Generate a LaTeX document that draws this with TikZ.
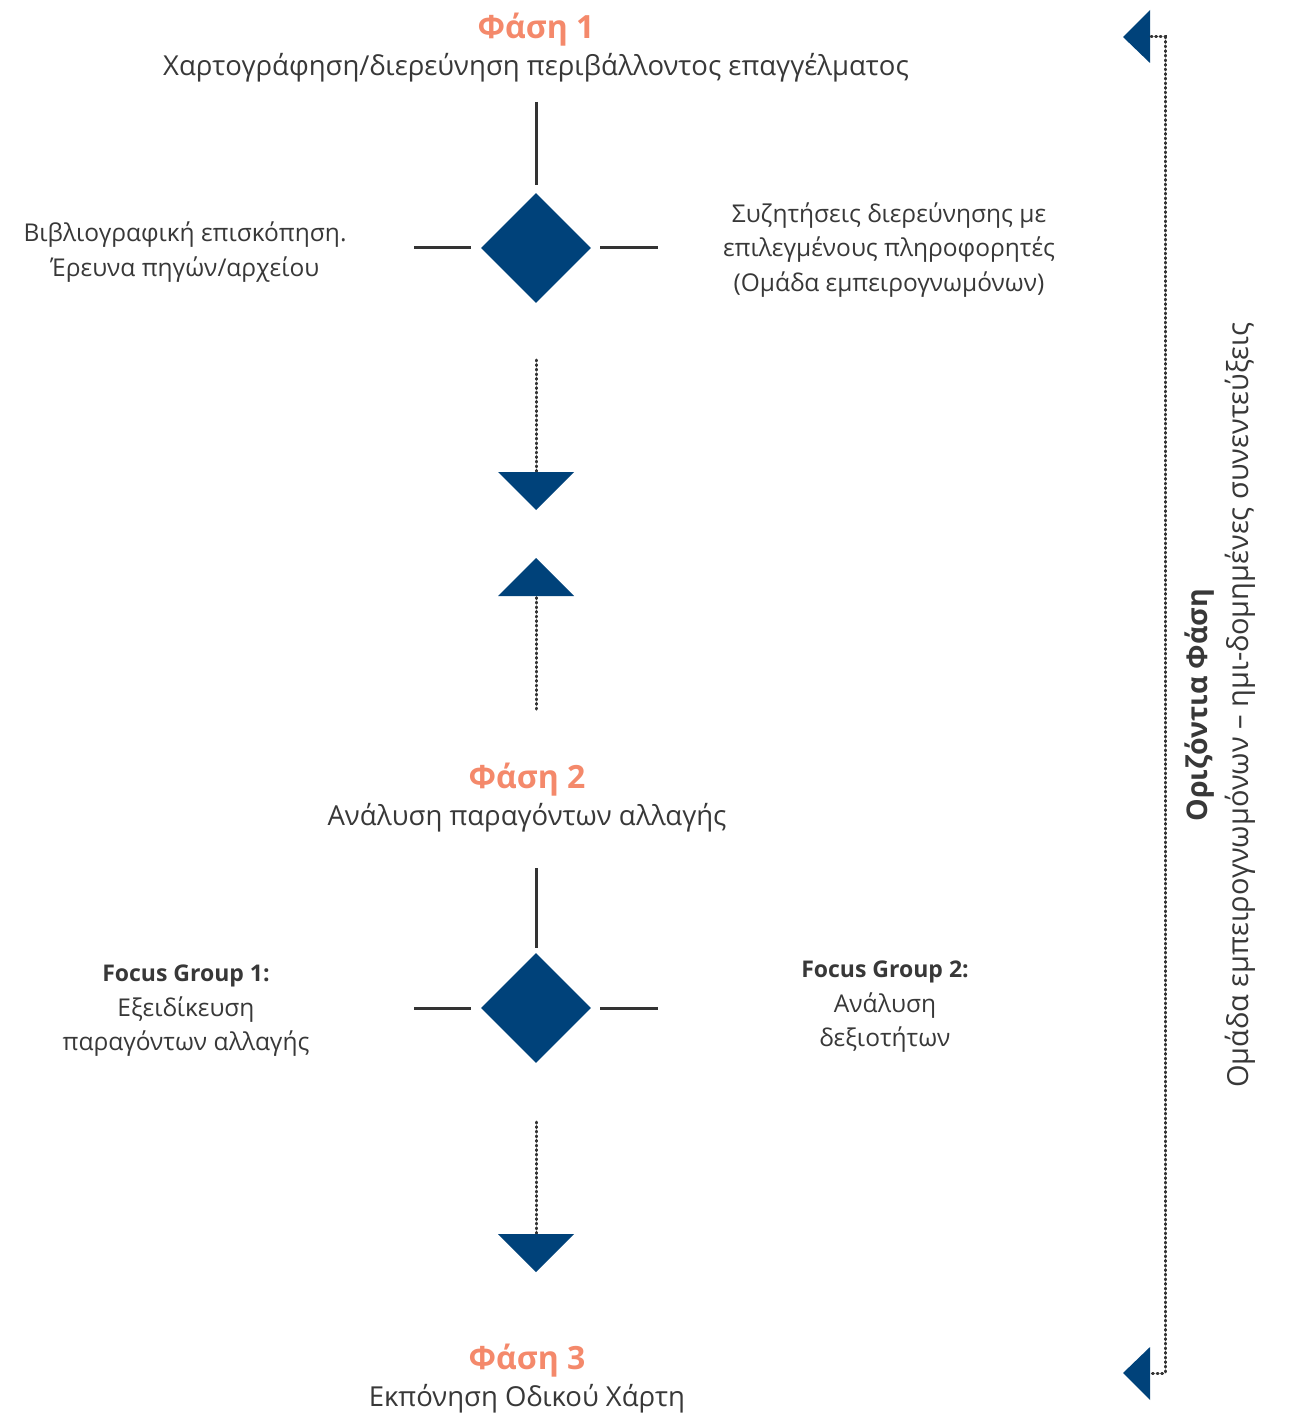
\documentclass[tikz,border=0pt]{standalone}
\usepackage{fontspec}
\setmainfont{Open Sans}
\usetikzlibrary{shapes.geometric}
\definecolor{navy}{HTML}{00427A}
\definecolor{salmon}{HTML}{F4896B}
\definecolor{txt}{HTML}{383838}
\definecolor{ln}{HTML}{333333}
\tikzset{
  phase/.style={text=salmon,font=\fontsize{32}{36}\selectfont\bfseries,inner sep=0},
  sub/.style={text=txt,font=\fontsize{27.5}{32}\selectfont,inner sep=0},
  side/.style={text=txt,font=\fontsize{24.5}{34.5}\selectfont,align=center,inner sep=0},
  dia/.style={diamond,fill=navy,minimum width=110,minimum height=110,inner sep=0,draw=none},
  solidln/.style={draw=ln,line width=3pt},
  dotln/.style={draw=ln,line width=3pt,dash pattern=on 1pt off 3.6pt,line cap=round},
  tri/.style={fill=navy,draw=none},
}
\begin{document}
\begin{tikzpicture}[x=1pt,y=-1pt]
\useasboundingbox (0,0) rectangle (1290,1415);

% Phase 1
\node[phase] (p1) at (536,30) {Φάση 1};
\node[sub] (p1s) at (536,68) {Χαρτογράφηση/διερεύνηση περιβάλλοντος επαγγέλματος};
\node[dia] (d1) at (536,248) {};
\coordinate (t1) at (536,102);
\coordinate (t1e) at (536,185);
\draw[solidln] (t1) -- (t1e);
\coordinate (l1a) at (414,248); \coordinate (l1b) at (471,248);
\coordinate (r1a) at (600,248); \coordinate (r1b) at (658,248);
\draw[solidln] (l1a) -- (l1b);
\draw[solidln] (r1a) -- (r1b);
\node[side] (left1) at (185,252) {Βιβλιογραφική επισκόπηση.\\Έρευνα πηγών/αρχείου};
\node[side] (right1) at (889,250) {Συζητήσεις διερεύνησης με\\επιλεγμένους πληροφορητές\\(Ομάδα εμπειρογνωμόνων)};

% arrows between phase 1 and 2
\coordinate (a1s) at (536,360);
\coordinate (a1e) at (536,472);
\draw[dotln] (a1s) -- (a1e);
\fill[tri] (498,472) -- (574,472) -- (536,510) -- cycle;
\coordinate (a2s) at (536,709);
\coordinate (a2e) at (536,596);
\draw[dotln] (a2s) -- (a2e);
\fill[tri] (498,596) -- (574,596) -- (536,558) -- cycle;

% Phase 2
\node[phase] (p2) at (527,780) {Φάση 2};
\node[sub] (p2s) at (527,818) {Ανάλυση παραγόντων αλλαγής};
\node[dia] (d2) at (536,1008) {};
\coordinate (t2) at (536,868);
\coordinate (t2e) at (536,948);
\draw[solidln] (t2) -- (t2e);
\coordinate (l2a) at (414,1008); \coordinate (l2b) at (471,1008);
\coordinate (r2a) at (600,1008); \coordinate (r2b) at (658,1008);
\draw[solidln] (l2a) -- (l2b);
\draw[solidln] (r2a) -- (r2b);
\node[side] (left2) at (186,1011) {{\fontsize{23}{34.5}\selectfont\bfseries Focus Group 1:}\\Εξειδίκευση\\παραγόντων αλλαγής};
\node[side] (right2) at (885,1007) {{\fontsize{23}{34.5}\selectfont\bfseries Focus Group 2:}\\Ανάλυση\\δεξιοτήτων};

\coordinate (a3s) at (536,1122);
\coordinate (a3e) at (536,1234);
\draw[dotln] (a3s) -- (a3e);
\fill[tri] (498,1234) -- (574,1234) -- (536,1272) -- cycle;

% Phase 3
\node[phase] (p3) at (527,1361) {Φάση 3};
\node[sub] (p3s) at (527,1399) {Εκπόνηση Οδικού Χάρτη};

% Right bracket
\fill[tri] (1150,10) -- (1150,63) -- (1123,37) -- cycle;
\fill[tri] (1150,1347) -- (1150,1400) -- (1123,1373) -- cycle;
\coordinate (bt) at (1151,37);
\coordinate (bb) at (1151,1373);
\draw[dotln] (bt) -- (1165,37) -- (1165,1373) -- (bb);
\node[text=txt,font=\fontsize{28.5}{32}\selectfont\bfseries,rotate=90,inner sep=0] (hz) at (1200,705) {Οριζόντια Φάση};
\node[text=txt,font=\fontsize{29}{33}\selectfont,rotate=90,inner sep=0] (hz2) at (1240,705) {Ομάδα εμπειρογνωμόνων – ημι-δομημένες συνεντεύξεις};
\end{tikzpicture}
\end{document}
